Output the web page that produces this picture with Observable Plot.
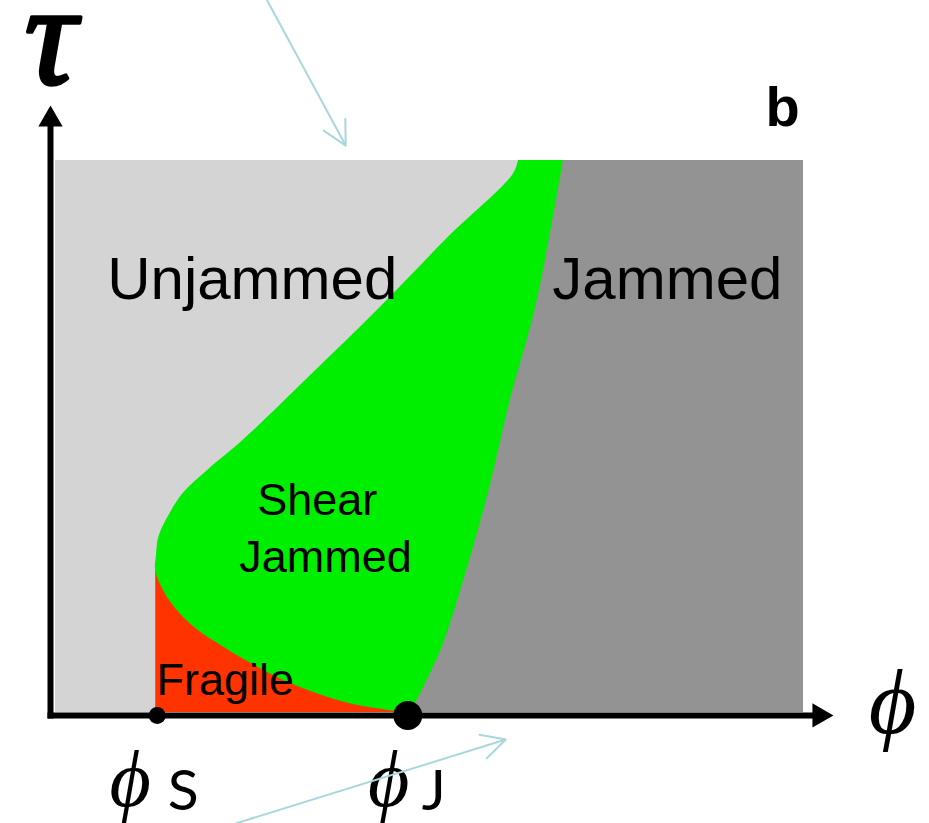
<!DOCTYPE html>
<html><head><meta charset="utf-8">
<script src="https://cdn.jsdelivr.net/npm/d3@7"></script>
<script src="https://cdn.jsdelivr.net/npm/@observablehq/plot@0.6"></script>
<style>body{margin:0;background:#fff}</style>
</head><body><div id="chart"></div>
<script>
// Normalised packing fraction φ and shear stress τ of the diagram box
const phiRange = [0, 1];
const tauRange = [0, 1];

// Jamming line (Shear Jammed | Jammed), top → bottom
const jamPhi = [0.679, 0.644, 0.608, 0.582, 0.551, 0.515, 0.475];
const jamTau = [1.0, 0.746, 0.565, 0.415, 0.263, 0.112, 0];

// Shear-jamming line (Unjammed | Shear Jammed), top → bottom
const shearPhi = [0.619, 0.612, 0.524, 0.4345, 0.337, 0.251, 0.203, 0.171, 0.150, 0.138, 0.135, 0.134];
const shearTau = [1.0, 0.975, 0.859, 0.734, 0.605, 0.493, 0.438, 0.397, 0.353, 0.317, 0.284, 0.257];

// Fragile line (Fragile | Shear Jammed), top-left → bottom-right
const fragPhi = [0.134, 0.150, 0.180, 0.217, 0.261, 0.305, 0.350, 0.394, 0.465];
const fragTau = [0.257, 0.208, 0.161, 0.125, 0.089, 0.058, 0.034, 0.016, 0];

// Critical packing fractions
const critLabels = ["S", "J"];
const critPhi = [0.136, 0.471];

// Axis extents (data units)
const phiAxis = [-0.0107, 1.040];
const tauAxis = [-0.0109, 1.0996];
const axisPhi = -0.0067;   // φ where the τ axis sits
const axisTau = -0.0054;   // τ where the φ axis sits

// Region labels
const regionText = ["Unjammed", "Jammed", "Shear", "Jammed", "Fragile"];
const regionPhi  = [0.263, 0.818, 0.350, 0.361, 0.135];
const regionTau  = [0.750, 0.750, 0.357, 0.254, 0.031];

// Light-blue pointer arrows
const pointerFromPhi = [0.283, 0.241];
const pointerFromTau = [1.290, -0.201];
const pointerToPhi   = [0.388, 0.602];
const pointerToTau   = [1.027, -0.049];

const pts = (xs, ys) => xs.map((p, i) => ({phi: p, tau: ys[i]}));
const jam = pts(jamPhi, jamTau);
const leftEdge = [...pts(shearPhi, shearTau), ...pts(fragPhi, fragTau).slice(1)];

const crit = critPhi.map((p, i) => ({phi: p, tau: axisTau, label: critLabels[i]}));
const regions = regionText.map((t, i) => ({text: t, phi: regionPhi[i], tau: regionTau[i]}));
const pointers = pointerFromPhi.map((p, i) => ({x1: p, y1: pointerFromTau[i], x2: pointerToPhi[i], y2: pointerToTau[i]}));

const sans = "Liberation Sans, Arial, sans-serif";
const serif = "Liberation Serif, DejaVu Serif, serif";
const PHI = "\u03D5";

const chart = Plot.plot({
  width: 929,
  height: 823,
  marginLeft: 55,
  marginRight: 126,
  marginTop: 160,
  marginBottom: 111,
  x: {domain: phiRange, axis: null},
  y: {domain: tauRange, axis: null},
  style: {background: "#fff", overflow: "visible"},
  marks: [
    // Unjammed background
    Plot.rect([{x1: phiRange[0], x2: phiRange[1], y1: tauRange[0], y2: tauRange[1]}],
      {x1: "x1", x2: "x2", y1: "y1", y2: "y2", fill: "#d4d4d4"}),
    // Fragile
    Plot.rect([{x1: fragPhi[0], x2: fragPhi[fragPhi.length - 1], y1: tauRange[0], y2: fragTau[0]}],
      {x1: "x1", x2: "x2", y1: "y1", y2: "y2", fill: "#ff3300"}),
    // Shear jammed (to the right of the shear / fragile lines)
    Plot.areaX(leftEdge, {y: "tau", x1: "phi", x2: () => phiRange[1], fill: "#00ee00", curve: "catmull-rom"}),
    // Jammed (to the right of the jamming line)
    Plot.areaX(jam, {y: "tau", x1: "phi", x2: () => phiRange[1], fill: "#939393", curve: "catmull-rom"}),

    // axes
    Plot.arrow([{x1: phiAxis[0], x2: phiAxis[1], y1: axisTau, y2: axisTau}],
      {x1: "x1", x2: "x2", y1: "y1", y2: "y2", stroke: "black", strokeWidth: 6, headLength: 0, insetEnd: 14, strokeLinecap: "butt"}),
    Plot.arrow([{x1: axisPhi, x2: axisPhi, y1: tauAxis[0], y2: tauAxis[1]}],
      {x1: "x1", x2: "x2", y1: "y1", y2: "y2", stroke: "black", strokeWidth: 6, headLength: 0, insetEnd: 14, strokeLinecap: "butt"}),
    Plot.dot([{x: phiAxis[1], y: axisTau}], {x: "x", y: "y", symbol: "triangle", r: 9, fill: "black", stroke: "none", rotate: 90, dx: -14}),
    Plot.dot([{x: axisPhi, y: tauAxis[1]}], {x: "x", y: "y", symbol: "triangle", r: 9, fill: "black", stroke: "none", dy: 14}),

    // critical points
    Plot.dot(crit.filter(d => d.label === "S"), {x: "phi", y: "tau", r: 8.5, fill: "black", stroke: "none"}),
    Plot.dot(crit.filter(d => d.label === "J"), {x: "phi", y: "tau", r: 14.5, fill: "black", stroke: "none"}),
    Plot.text(crit.filter(d => d.label === "S"), {x: "phi", y: "tau", text: () => PHI, dx: -27, dy: 91,
      fontFamily: serif, fontStyle: "italic", fontSize: 80, lineAnchor: "bottom", fill: "black"}),
    Plot.text(crit.filter(d => d.label === "J"), {x: "phi", y: "tau", text: () => PHI, dx: -19, dy: 91,
      fontFamily: serif, fontStyle: "italic", fontSize: 80, lineAnchor: "bottom", fill: "black"}),
    Plot.text(crit, {x: "phi", y: "tau", text: "label", dx: 26, dy: 95,
      fontFamily: "Lato, sans-serif", fontSize: 57, lineAnchor: "bottom", fill: "black"}),

    // region labels
    Plot.text(regions.slice(0, 2), {x: "phi", y: "tau", text: "text", fontFamily: sans, fontSize: 60, lineAnchor: "bottom", fill: "black"}),
    Plot.text(regions.slice(2, 4), {x: "phi", y: "tau", text: "text", fontFamily: sans, fontSize: 45, lineAnchor: "bottom", fill: "black"}),
    Plot.text(regions.slice(4), {x: "phi", y: "tau", text: "text", fontFamily: sans, fontSize: 45, lineAnchor: "bottom", textAnchor: "start", fill: "black"}),

    // axis symbols and panel letter
    Plot.text([{x: axisPhi, y: 1.139}], {x: "x", y: "y", text: () => "τ", fontFamily: serif, fontStyle: "italic",
      fontSize: 145, lineAnchor: "bottom", fill: "black", stroke: "black", strokeWidth: 3.5}),
    Plot.text([{x: 1.119, y: -0.038}], {x: "x", y: "y", text: () => PHI, fontFamily: serif, fontStyle: "italic",
      fontSize: 92, lineAnchor: "bottom", fill: "black"}),
    Plot.text([{x: 0.972, y: 1.063}], {x: "x", y: "y", text: () => "b", fontFamily: sans, fontWeight: "bold",
      fontSize: 56, lineAnchor: "bottom", fill: "black"}),

    // pointer arrows
    Plot.arrow(pointers, {x1: "x1", y1: "y1", x2: "x2", y2: "y2", stroke: "#a9d7dc", strokeWidth: 2, headLength: 20, headAngle: 55})
  ]
});
document.getElementById("chart").appendChild(chart);
</script>
</body></html>
